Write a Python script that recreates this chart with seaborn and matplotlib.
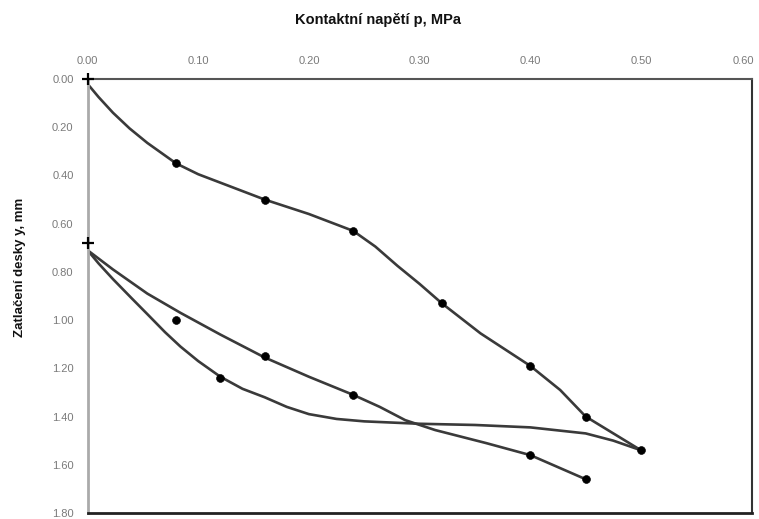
import pandas as pd
import matplotlib
matplotlib.use("Agg")
import matplotlib.pyplot as plt
import matplotlib.transforms as mtransforms
import seaborn as sns

# zatezovaci vetev (body mereni + prubeh krivky)
load_p = [0.00, 0.01, 0.023, 0.038, 0.054, 0.08, 0.10, 0.12, 0.16, 0.20, 0.24, 0.26, 0.28,
          0.30, 0.32, 0.355, 0.40, 0.427, 0.45, 0.475, 0.50]
load_y = [0.02, 0.075, 0.14, 0.205, 0.265, 0.35, 0.395, 0.43, 0.50, 0.56, 0.63, 0.695, 0.775,
          0.85, 0.93, 1.055, 1.19, 1.29, 1.40, 1.47, 1.54]

# odlehceni
unload_p = [0.50, 0.475, 0.45, 0.40, 0.35, 0.30, 0.25, 0.225, 0.20, 0.18, 0.16, 0.14,
            0.12, 0.10, 0.084, 0.07, 0.054, 0.04, 0.023, 0.01, 0.00]
unload_y = [1.54, 1.50, 1.47, 1.445, 1.435, 1.43, 1.42, 1.41, 1.39, 1.36, 1.32, 1.285,
            1.235, 1.17, 1.11, 1.05, 0.975, 0.91, 0.83, 0.765, 0.71]

# opetovne zatizeni
reload_p = [0.00, 0.023, 0.054, 0.084, 0.12, 0.16, 0.20, 0.24, 0.264, 0.287, 0.314,
            0.36, 0.40, 0.45]
reload_y = [0.71, 0.79, 0.89, 0.97, 1.06, 1.155, 1.235, 1.31, 1.36, 1.415, 1.456,
            1.51, 1.56, 1.66]

# namerene body
pts_p = [0.08, 0.16, 0.24, 0.32, 0.40, 0.45, 0.50, 0.08, 0.16, 0.24, 0.40, 0.45, 0.12]
pts_y = [0.35, 0.50, 0.63, 0.93, 1.19, 1.40, 1.54, 1.00, 1.15, 1.31, 1.56, 1.66, 1.24]

start_p = [0.00, 0.00]
start_y = [0.00, 0.68]

x_ticks = [0.0, 0.1, 0.2, 0.3, 0.4, 0.5, 0.6]
y_ticks = [0.0, 0.2, 0.4, 0.6, 0.8, 1.0, 1.2, 1.4, 1.6, 1.8]

sns.set_style("white")
plt.rcParams["font.family"] = ["Liberation Sans Narrow", "Liberation Sans", "DejaVu Sans"]

fig = plt.figure(figsize=(7.59, 5.19), dpi=100)
ax = fig.add_axes([0.1153, 0.0116, 0.8751, 0.8362])

line_kw = dict(color="#3a3a3a", linewidth=1.9, sort=False, estimator=None, ax=ax)
for xs, ys in [(load_p, load_y), (unload_p, unload_y), (reload_p, reload_y)]:
    sns.lineplot(data=pd.DataFrame({"p": xs, "y": ys}), x="p", y="y", **line_kw)

sns.scatterplot(x=pts_p, y=pts_y, color="black", s=32, edgecolor="black", zorder=5, ax=ax)
sns.scatterplot(x=start_p, y=start_y, marker="+", color="black", s=70, linewidth=1.6,
                zorder=6, clip_on=False, ax=ax)

ax.set_xlim(0, 0.6)
ax.set_ylim(1.8, 0.0)
ax.xaxis.tick_top()
ax.set_xticks(x_ticks)
ax.set_yticks(y_ticks)
ax.set_xticklabels([f"{v:.2f}" for v in x_ticks])
ax.set_yticklabels([f"{v:.2f}" for v in y_ticks])
ax.tick_params(axis="both", length=0, labelsize=8, labelcolor="#7a7a7a", pad=10)
ax.tick_params(axis="x", pad=9)
ax.set_xlabel("")
ax.set_ylabel("")

# posledni popisek osy x posunout, aby se vesel do obrazku
last = ax.get_xticklabels()[-1]
last.set_transform(last.get_transform() + mtransforms.ScaledTranslation(-6 / 72, 0, fig.dpi_scale_trans))

for side, col, lw in [("top", "#555555", 1.5), ("bottom", "#222222", 2.0),
                      ("right", "#333333", 1.5), ("left", "#aaaaaa", 2.0)]:
    ax.spines[side].set_visible(True)
    ax.spines[side].set_color(col)
    ax.spines[side].set_linewidth(lw)

fig.text(0.498, 0.962, "Kontaktní napětí p, MPa", ha="center", va="center",
         fontsize=10.5, fontweight="bold", color="#111111")
fig.text(0.027, 0.485, "Zatlačení desky y, mm", ha="center", va="center",
         rotation=90, fontsize=9.5, fontweight="bold", color="#111111")

fig.savefig("out.png", dpi=100)
